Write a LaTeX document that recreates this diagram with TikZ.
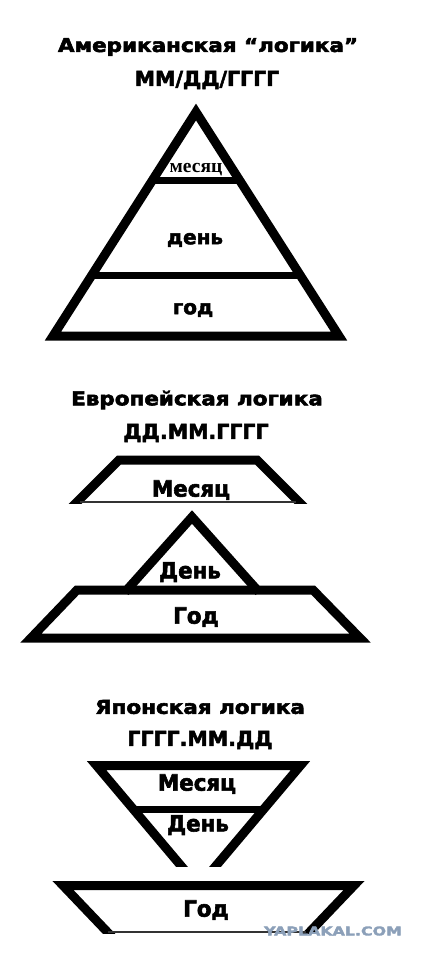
\documentclass[tikz,border=0pt]{standalone}
\usepackage{fontspec}
\setmainfont{DejaVu Sans}
\newfontfamily\headfont{DejaVu Sans Bold}[FakeStretch=1.13, FakeBold=3]
\newfontfamily\datefont{DejaVu Sans Bold}[FakeBold=2.5]
\newfontfamily\wordfont{DejaVu Sans Bold}[FakeStretch=0.95, FakeBold=2.5]
\newfontfamily\timesfont{Liberation Serif Bold}
\usetikzlibrary{calc}
\definecolor{markblue}{RGB}{140,160,185}

\begin{document}
\begin{tikzpicture}[x=1pt, y=-1pt, line join=miter,
		heading/.style={font=\headfont\fontsize{19}{22}\selectfont, inner sep=0pt},
		dates/.style={font=\datefont\fontsize{20.5}{24}\selectfont, inner sep=0pt},
		word/.style={font=\wordfont\fontsize{22.5}{26}\selectfont, inner sep=0pt},
		smallword/.style={font=\datefont\fontsize{20}{24}\selectfont, inner sep=0pt},
		wall/.style={line width=9pt, draw=black},
		rim/.style={line width=7pt, draw=black},
		seam/.style={line width=1.2pt, draw=black!80}]
		
		\useasboundingbox (0,0) rectangle (428,960);
		
		% a) American logic: one pyramid in three layers
		\node[heading] (title1) at (208,47) {Американская “логика”};
		\node[dates] (format1) at (207,80) {ММ/ДД/ГГГГ};
		
		\coordinate (apex1) at (196,112);
		\coordinate (left1) at (53,336);
		\coordinate (right1) at (339,336);
		\draw[wall] (apex1) -- (left1) -- (right1) -- cycle;
		\draw[rim] ($(apex1)!0.308!(left1)$) -- ($(apex1)!0.308!(right1)$);
		\draw[rim] ($(apex1)!0.732!(left1)$) -- ($(apex1)!0.732!(right1)$);
		
		\node[inner sep=0pt, font=\timesfont\fontsize{19.5}{22}\selectfont] (month1) at (196,170) {месяц};
		\node[smallword] (day1) at (195,240) {день};
		\node[smallword] (year1) at (193,310) {год};
		
		% b) European logic: cut top, small peak, wide base
		\node[heading] (title2) at (197,400) {Европейская логика};
		\node[dates] (format2) at (196,433) {ДД.ММ.ГГГГ};
		
		\begin{scope}
			\clip (0,440) rectangle (428,503);
			\draw[wall] (69,510) -- (119,460) -- (257,460) -- (307,510);
		\end{scope}
		\draw[seam] (80,502) -- (296,502);
		
		\draw[wall] (125,592) -- (192,517) -- (259,592);
		\draw[wall] (77,590) -- (313,590) -- (360,638) -- (31,638) -- cycle;
		
		\node[word] (month2) at (191,490) {Месяц};
		\node[word] (day2) at (190,572) {День};
		\node[word] (year2) at (196,617) {Год};
		
		% c) Japanese logic: upside down
		\node[heading] (title3) at (200,707) {Японская логика};
		\node[dates] (format3) at (200,740) {ГГГГ.ММ.ДД};
		
		\coordinate (top3l) at (96.5,765.5);
		\coordinate (top3r) at (300.5,765.5);
		\coordinate (apex3) at (198.5,886.5);
		\begin{scope}
			\clip (0,745) rectangle (428,866);
			\draw[wall] (apex3) -- (top3l) -- (top3r) -- cycle;
		\end{scope}
		\draw[rim] ($(top3l)!0.364!(apex3)$) -- ($(top3r)!0.364!(apex3)$);
		
		\begin{scope}
			\clip (0,870) rectangle (428,933);
			\draw[wall] (115,940) -- (63,885.5) -- (354,885.5) -- (302,940);
		\end{scope}
		\draw[seam] (108,932) -- (306,932);
		
		\node[word] (month3) at (197,784) {Месяц};
		\node[word] (day3) at (198,825) {День};
		\node[word] (year3) at (206,910) {Год};
		
		\node[inner sep=0pt, text=markblue, font=\datefont\fontsize{12}{14}\selectfont] (mark) at (333,931) {\scalebox{1.32}[1]{YAPLAKAL.COM}};
		
	\end{tikzpicture}
\end{document}
